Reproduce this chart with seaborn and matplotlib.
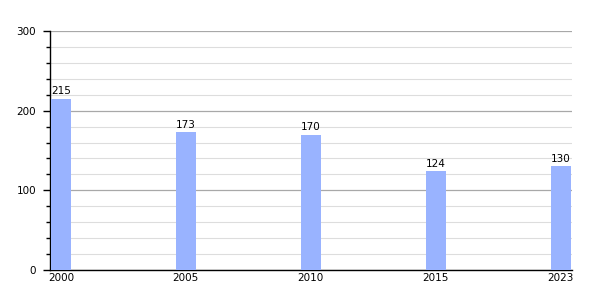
import matplotlib
matplotlib.use("Agg")
import matplotlib.pyplot as plt
import seaborn as sns
import pandas as pd
from matplotlib.ticker import MultipleLocator

years = ["2000", "2005", "2010", "2015", "2023"]
values = [215, 173, 170, 124, 130]

df = pd.DataFrame({"year": years, "value": values})

sns.set_style("white")
plt.rcParams['font.family'] = ['DejaVu Sans']
plt.rcParams['text.color'] = 'black'
plt.rcParams['xtick.color'] = 'black'
plt.rcParams['ytick.color'] = 'black'

fig = plt.figure(figsize=(6, 3), dpi=100)
ax = fig.add_axes([50/600, 30/300, 522/600, 239/300])

sns.barplot(data=df, x="year", y="value", color="#99b3ff", saturation=1,
            width=0.16, ax=ax, zorder=3, linewidth=0, edgecolor="none")

ax.set_ylim(0, 300)
ax.set_xlim(-0.088, 4.092)
ax.yaxis.set_major_locator(MultipleLocator(100))
ax.yaxis.set_minor_locator(MultipleLocator(20))
ax.grid(which="major", axis="y", color="#a8a8a8", linewidth=0.9, zorder=0)
ax.grid(which="minor", axis="y", color="#dddddd", linewidth=0.8, zorder=0)
ax.set_axisbelow(True)

for s in ["top", "right"]:
    ax.spines[s].set_visible(False)
ax.spines["left"].set_color("black")
ax.spines["bottom"].set_color("black")
ax.spines["left"].set_linewidth(1)
ax.spines["bottom"].set_linewidth(1)

ax.tick_params(axis="y", which="major", left=True, length=5, width=1, color="black",
               labelcolor="black", labelsize=7.5, pad=5)
ax.tick_params(axis="y", which="minor", left=True, length=3, width=1, color="black")
ax.tick_params(axis="x", length=0, labelsize=7.5, pad=2, labelcolor="black")
ax.set_xlabel("")
ax.set_ylabel("")

for i, v in enumerate(values):
    ax.text(i, v + 3, str(v), ha="center", va="bottom", fontsize=7.5, color="black")

fig.savefig("out.png", dpi=100)
